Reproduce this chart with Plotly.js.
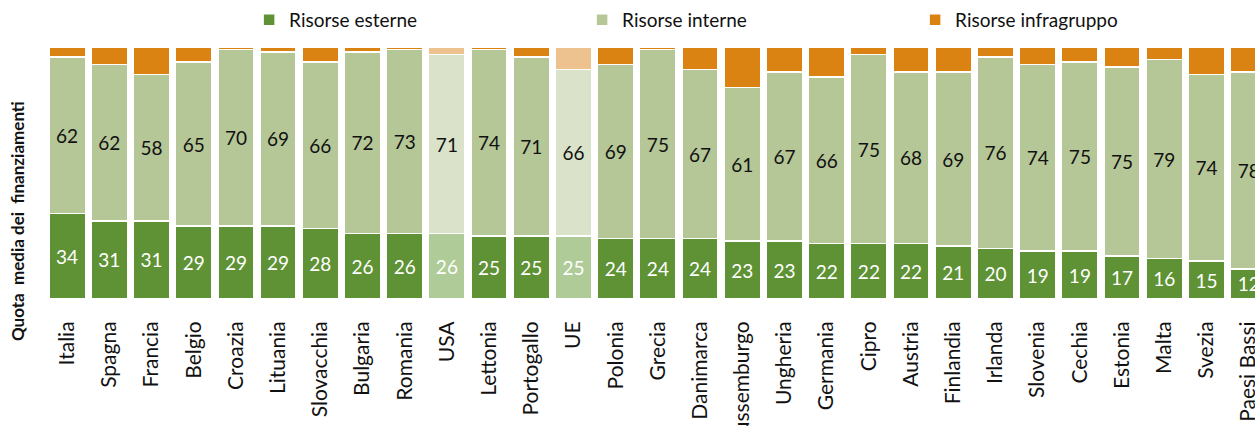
<!DOCTYPE html>
<html>
<head>
<meta charset="utf-8">
<script src="https://cdn.plot.ly/plotly-3.0.1.min.js"></script>
<style>html,body{margin:0;padding:0;background:#fff;}#chart{width:1255px;height:426px;}</style>
</head>
<body>
<div id="chart"></div>
<script>
const categories = ["Italia","Spagna","Francia","Belgio","Croazia","Lituania","Slovacchia","Bulgaria","Romania","USA","Lettonia","Portogallo","UE","Polonia","Grecia","Danimarca","Lussemburgo","Ungheria","Germania","Cipro","Austria","Finlandia","Irlanda","Slovenia","Cechia","Estonia","Malta","Svezia","Paesi Bassi"];
const esterne =     [34,31,31,29,29,29,28,26,26,26,25,25,25,24,24,24,23,23,22,22,22,21,20,19,19,17,16,15,12];
const interne =     [62,62,58,65,70,69,66,72,73,71,74,71,66,69,75,67,61,67,66,75,68,69,76,74,75,75,79,74,78];
const infragruppo = [4,7,11,6,1,2,6,2,1,3,1,4,9,7,1,9,16,10,12,3,10,10,4,7,6,8,5,11,10];
const highlighted = ["USA","UE"];

const FONT = "Lato, 'Open Sans', sans-serif";
function cols(normal, faded){ return categories.map(c => highlighted.includes(c) ? faded : normal); }

const common = {type:'bar', x:categories, textposition:'inside', insidetextanchor:'middle',
  hoverinfo:'skip', cliponaxis:false, constraintext:'none'};

const traces = [
  Object.assign({}, common, {name:'Risorse esterne', y:esterne, text:esterne.map(String),
    textfont:{color:'#ffffff', size:19, family:FONT},
    marker:{color:cols('#5E9234','#AECB98'), line:{color:'#ffffff', width:1.5}}}),
  Object.assign({}, common, {name:'Risorse interne', y:interne, text:interne.map(String),
    textfont:{color:'#111111', size:19, family:FONT},
    marker:{color:cols('#B5C697','#DAE2C9'), line:{color:'#ffffff', width:1.5}}}),
  Object.assign({}, common, {name:'Risorse infragruppo', y:infragruppo, text:infragruppo.map(()=>''),
    textfont:{color:'#111111', size:19, family:FONT},
    marker:{color:cols('#DA8312','#EEC28E'), line:{color:'#ffffff', width:1.5}}})
];

const layout = {
  width:1255, height:426,
  margin:{l:46, r:0, t:47, b:127},
  barmode:'stack', bargap:0.14,
  paper_bgcolor:'#ffffff', plot_bgcolor:'#ffffff',
  font:{family:FONT, color:'#111111', size:18},
  showlegend:true,
  legend:{orientation:'h', x:0.168, xanchor:'left', y:0.998, yanchor:'top', yref:'container',
    entrywidth:288, entrywidthmode:'pixels', font:{size:19, family:FONT, color:'#111'},
    traceorder:'normal', bgcolor:'rgba(0,0,0,0)'},
  xaxis:{type:'category', range:[-0.5, 28.15], tickangle:-90, showgrid:false, zeroline:false,
    showline:false, ticks:'outside', ticklen:13, tickcolor:'rgba(0,0,0,0)',
    tickfont:{size:21, family:FONT, color:'#111'}, automargin:false},
  yaxis:{range:[0,100], showgrid:false, zeroline:false, showline:false, showticklabels:false, ticks:'', fixedrange:true},
  annotations:[{text:'<b>Quota&nbsp; media dei&nbsp; finanziamenti</b>', xref:'paper', yref:'paper',
    x:-0.023, y:0.31, xanchor:'center', yanchor:'middle', textangle:-90, showarrow:false,
    font:{size:17, family:FONT, color:'#111'}}]
};

Plotly.newPlot('chart', traces, layout, {displayModeBar:false, staticPlot:true});
</script>
</body>
</html>
